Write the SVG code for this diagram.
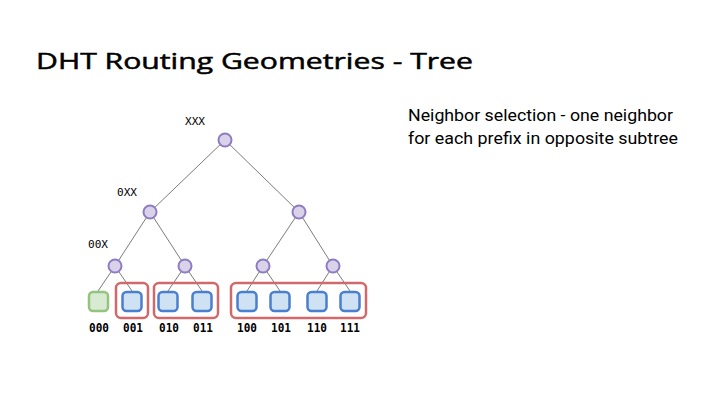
<svg xmlns="http://www.w3.org/2000/svg" width="720" height="405" viewBox="0 0 720 405">
<style>
.edge{stroke:#595959;stroke-width:0.8;fill:none}
.inner{fill:#d9d2e9;stroke:#8e7cc3;stroke-width:2}
.leaf{fill:#cfe2f3;stroke:#4a7fd0;stroke-width:2.5}
.self{fill:#d9ead3;stroke:#93c47d;stroke-width:2.5}
.grp{fill:none;stroke:#d06a6a;stroke-width:2.5}
.lbl{font-family:"DejaVu Sans Mono","Liberation Mono",monospace;font-size:11px;fill:#000}
.bit{font-family:"DejaVu Sans Mono","Liberation Mono",monospace;font-size:12px;font-weight:bold;fill:#000;text-anchor:middle}
.title{font-family:"Open Sans","Noto Sans",sans-serif;font-size:22px;fill:#000;stroke:#000;stroke-width:0.5}
.note{font-family:Roboto,"Noto Sans",sans-serif;font-size:17px;fill:#000}
</style>
<rect width="720" height="405" fill="#fff"/>
<text class="title" x="36" y="69" textLength="437" lengthAdjust="spacingAndGlyphs">DHT Routing Geometries - Tree</text>
<text class="note" x="408" y="121" textLength="265" lengthAdjust="spacingAndGlyphs">Neighbor selection - one neighbor</text>
<text class="note" x="408" y="143.5" textLength="270" lengthAdjust="spacingAndGlyphs">for each prefix in opposite subtree</text>
<g id="connectors">
<line class="edge" x1="225" y1="140" x2="150" y2="212"/>
<line class="edge" x1="225" y1="140" x2="299" y2="212"/>
<line class="edge" x1="150" y1="212" x2="115" y2="266"/>
<line class="edge" x1="150" y1="212" x2="185" y2="266"/>
<line class="edge" x1="299" y1="212" x2="263" y2="266"/>
<line class="edge" x1="299" y1="212" x2="333" y2="266"/>
<line class="edge" x1="115" y1="266" x2="98" y2="291"/>
<line class="edge" x1="115" y1="266" x2="132" y2="291"/>
<line class="edge" x1="185" y1="266" x2="168" y2="291"/>
<line class="edge" x1="185" y1="266" x2="202" y2="291"/>
<line class="edge" x1="263" y1="266" x2="247" y2="291"/>
<line class="edge" x1="263" y1="266" x2="280" y2="291"/>
<line class="edge" x1="333" y1="266" x2="317" y2="291"/>
<line class="edge" x1="333" y1="266" x2="350" y2="291"/>
</g>
<g id="groups">
<rect class="grp" x="116" y="283" width="32" height="35" rx="5"/>
<rect class="grp" x="154" y="283" width="64" height="35" rx="5"/>
<rect class="grp" x="231" y="283" width="135" height="35" rx="5"/>
</g>
<g id="node-xxx"><circle class="inner" cx="225" cy="140" r="6.5"/><text class="lbl" x="185" y="125" textLength="20" lengthAdjust="spacingAndGlyphs">XXX</text></g>
<g id="node-0xx"><circle class="inner" cx="150" cy="212" r="6.5"/><text class="lbl" x="117" y="196" textLength="20" lengthAdjust="spacingAndGlyphs">0XX</text></g>
<g id="node-1xx"><circle class="inner" cx="299" cy="212" r="6.5"/></g>
<g id="node-00x"><circle class="inner" cx="115" cy="266" r="6.5"/><text class="lbl" x="88" y="248" textLength="20" lengthAdjust="spacingAndGlyphs">00X</text></g>
<g id="node-01x"><circle class="inner" cx="185" cy="266" r="6.5"/></g>
<g id="node-10x"><circle class="inner" cx="263" cy="266" r="6.5"/></g>
<g id="node-11x"><circle class="inner" cx="333" cy="266" r="6.5"/></g>
<g id="leaf-000"><rect class="self" x="89" y="292" width="19" height="19" rx="4"/><text class="bit" x="99" y="332" textLength="20" lengthAdjust="spacingAndGlyphs">000</text></g>
<g id="leaf-001"><rect class="leaf" x="122.5" y="292" width="19" height="19" rx="4"/><text class="bit" x="133" y="332" textLength="20" lengthAdjust="spacingAndGlyphs">001</text></g>
<g id="leaf-010"><rect class="leaf" x="158.5" y="292" width="19" height="19" rx="4"/><text class="bit" x="169" y="332" textLength="20" lengthAdjust="spacingAndGlyphs">010</text></g>
<g id="leaf-011"><rect class="leaf" x="192.5" y="292" width="19" height="19" rx="4"/><text class="bit" x="203" y="332" textLength="20" lengthAdjust="spacingAndGlyphs">011</text></g>
<g id="leaf-100"><rect class="leaf" x="237.5" y="292" width="19" height="19" rx="4"/><text class="bit" x="247" y="332" textLength="20" lengthAdjust="spacingAndGlyphs">100</text></g>
<g id="leaf-101"><rect class="leaf" x="270.5" y="292" width="19" height="19" rx="4"/><text class="bit" x="281" y="332" textLength="20" lengthAdjust="spacingAndGlyphs">101</text></g>
<g id="leaf-110"><rect class="leaf" x="307.5" y="292" width="19" height="19" rx="4"/><text class="bit" x="317" y="332" textLength="20" lengthAdjust="spacingAndGlyphs">110</text></g>
<g id="leaf-111"><rect class="leaf" x="340.5" y="292" width="19" height="19" rx="4"/><text class="bit" x="350" y="332" textLength="20" lengthAdjust="spacingAndGlyphs">111</text></g>
</svg>
